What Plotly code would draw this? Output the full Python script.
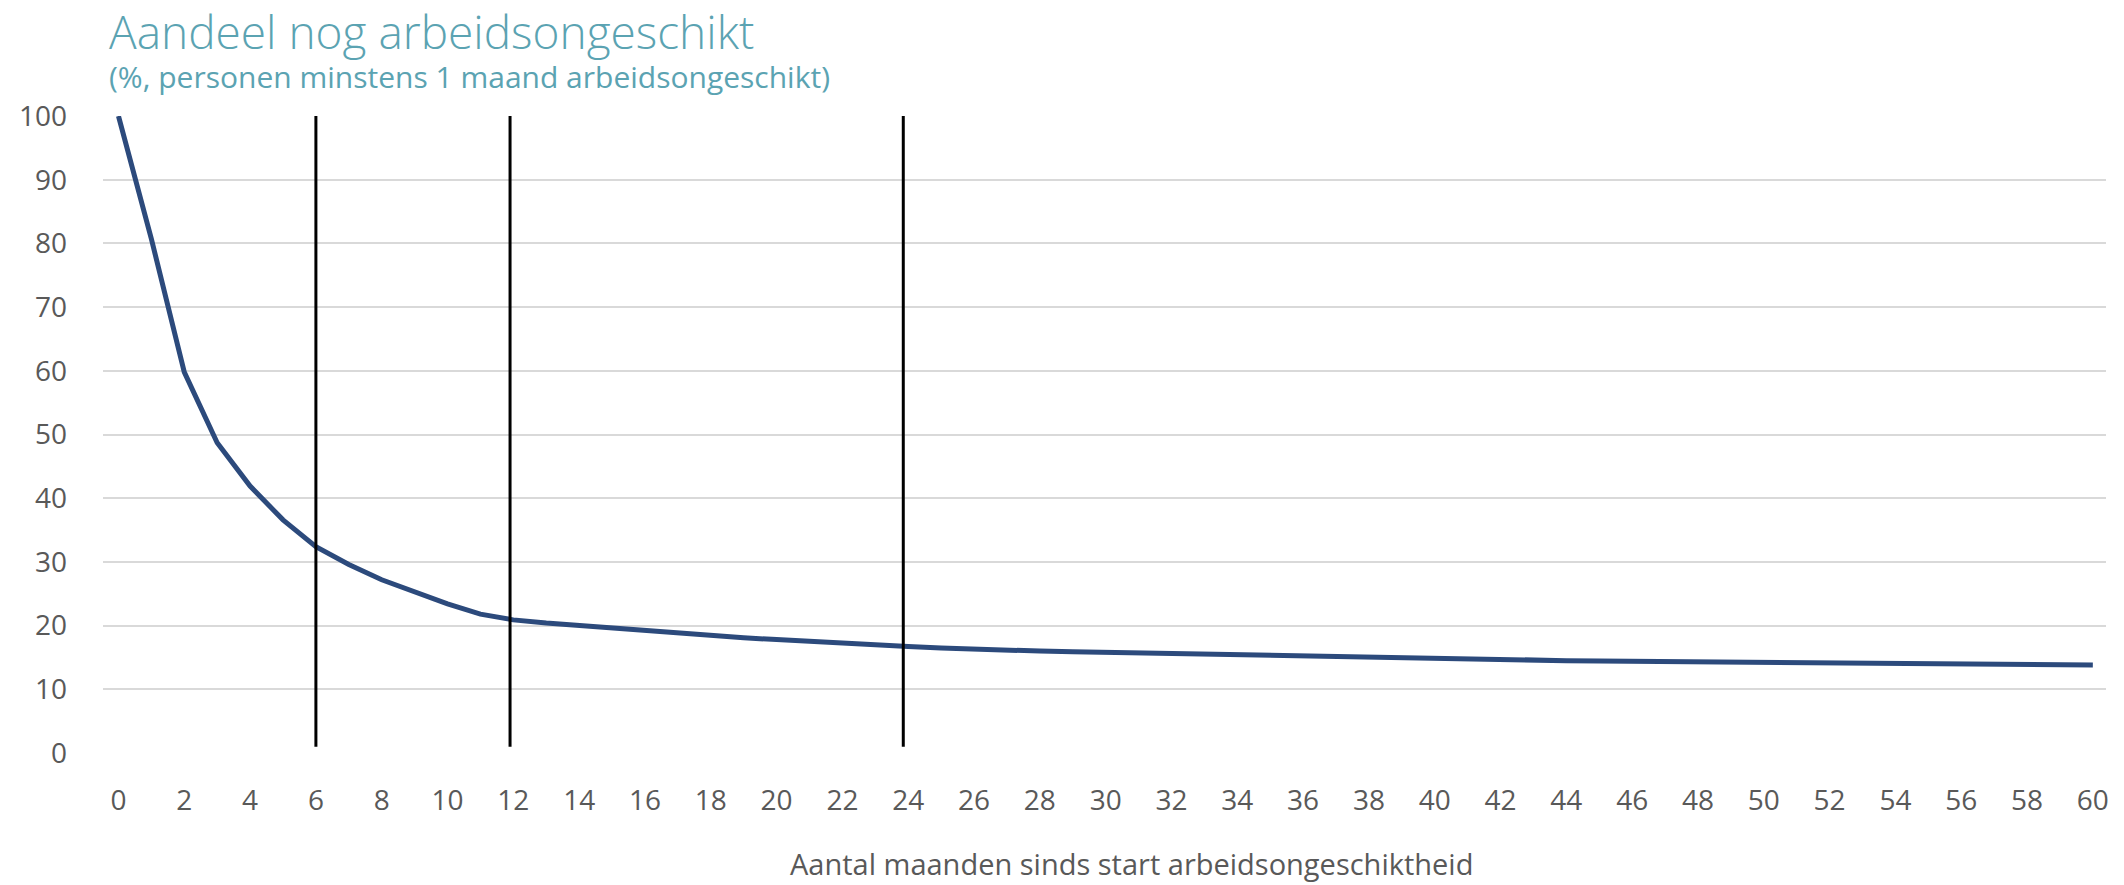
import plotly.graph_objects as go

# Data
months = list(range(0, 61))
share = [100, 80.7, 59.8, 48.7, 41.9, 36.6, 32.4, 29.6, 27.2, 25.2,
         23.4, 21.8, 20.9, 20.4, 20.0, 19.6, 19.2, 18.8, 18.4, 18.1,
         17.8, 17.5, 17.3, 17.0, 16.7, 16.5, 16.3, 16.1, 16.0, 15.9,
         15.8, 15.6, 15.5, 15.4, 15.3, 15.2, 15.1, 15.0, 14.9, 14.85,
         14.8, 14.7, 14.6, 14.55, 14.5, 14.45, 14.4, 14.3, 14.25, 14.2,
         14.15, 14.1, 14.1, 14.0, 14.0, 14.0, 13.9, 13.9, 13.9, 13.85,
         13.8]
# reference lines (~6, 12, 24 months)
marker_months = [6.0, 11.9, 23.85]
x_ticks = list(range(0, 61, 2))
y_ticks = list(range(0, 101, 10))

title = "Aandeel nog arbeidsongeschikt"
subtitle = "(%, personen minstens 1 maand arbeidsongeschikt)"
x_title = "Aantal maanden sinds start arbeidsongeschiktheid"

TEAL = "#5BA3B2"
GRAY = "#595959"
FONT = "Open Sans"

fig = go.Figure()
fig.add_trace(go.Scatter(x=months, y=share, mode="lines",
                         line=dict(color="#2C4A7C", width=5),
                         hoverinfo="x+y", showlegend=False))

for m in marker_months:
    fig.add_shape(type="line", xref="x", yref="y", x0=m, x1=m, y0=1.0, y1=100.8,
                  line=dict(color="black", width=3), layer="above")

heading = (f'<span style="font-size:46px;font-weight:300">{title}</span>'
           f'<br>{subtitle}')

fig.update_layout(
    width=2124, height=885,
    margin=dict(l=103, r=18, t=116, b=132, autoexpand=False),
    plot_bgcolor="white", paper_bgcolor="white",
    font=dict(family=FONT, color=GRAY, size=28),
    xaxis=dict(range=[-0.47, 60.4], tickvals=x_ticks, ticktext=[str(v) for v in x_ticks],
               showgrid=False, zeroline=False, showline=False, ticks="",
               tickfont=dict(size=28, color=GRAY), ticklabelstandoff=28,
               automargin=False),
    yaxis=dict(range=[0, 100], tickvals=y_ticks, showgrid=True, gridcolor="#D9D9D9",
               gridwidth=2, zeroline=False, showline=False, ticks="",
               tickfont=dict(size=28, color=GRAY), ticklabelstandoff=35,
               automargin=False),
    annotations=[
        dict(text=heading, xref="paper", yref="paper", x=0.002, y=1.026,
             xanchor="left", yanchor="bottom", align="left", showarrow=False,
             font=dict(family=FONT, size=30, color=TEAL)),
        dict(text=x_title, xref="paper", yref="paper", x=0.5137, y=-0.1728,
             xanchor="center", yanchor="middle", showarrow=False,
             font=dict(family=FONT, size=29, color=GRAY)),
    ],
)

fig.write_html("out.html", config={"displayModeBar": False},
               post_script="document.body.style.margin='0';")
